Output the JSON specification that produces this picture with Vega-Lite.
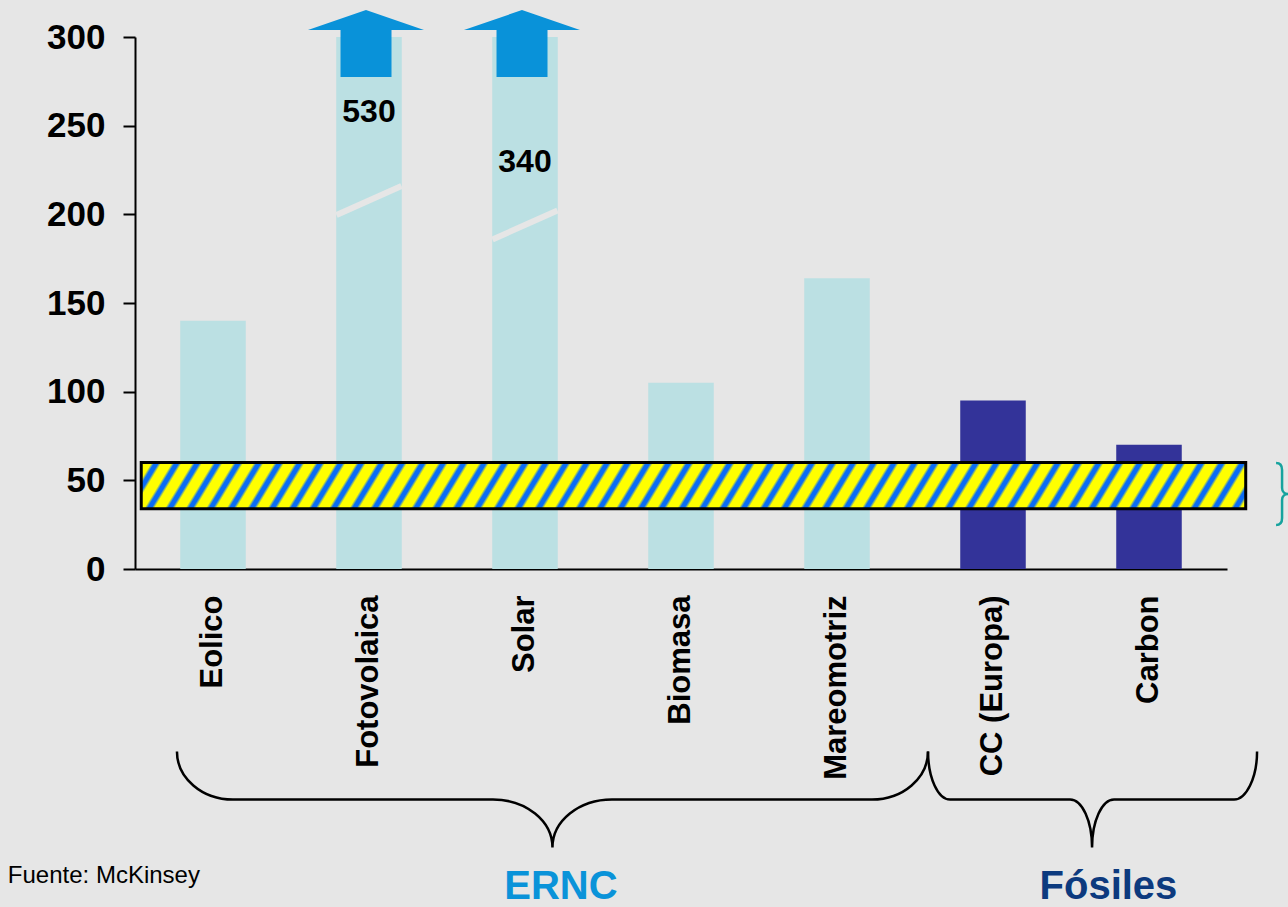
{
  "$schema": "https://vega.github.io/schema/vega-lite/v6.json",
  "width": 1092,
  "height": 532,
  "autosize": {"type": "none"},
  "padding": {"left": 135, "top": 37, "right": 61, "bottom": 338},
  "background": "#e6e6e6",
  "config": {"view": {"stroke": null}, "font": "Liberation Sans"},
  "datasets": {
    "costs": [
      {"cat": "Eolico", "value": 140, "group": "ERNC"},
      {"cat": "Fotovolaica", "value": 530, "group": "ERNC", "break_at": 207.8, "label_y": 252.2},
      {"cat": "Solar", "value": 340, "group": "ERNC", "break_at": 194, "label_y": 224},
      {"cat": "Biomasa", "value": 105, "group": "ERNC"},
      {"cat": "Mareomotriz", "value": 164, "group": "ERNC"},
      {"cat": "CC (Europa)", "value": 95, "group": "Fósiles"},
      {"cat": "Carbon", "value": 70, "group": "Fósiles"}
    ],
    "band": [{"from": 0.04, "to": 7.12, "low": 34, "high": 60}],
    "braces": [
      {"group": "ERNC", "pos": 2.676, "y": -130},
      {"group": "Fósiles", "pos": 6.135, "y": -130}
    ],
    "groups": [
      {"group": "ERNC", "pos": 2.73, "y": -186},
      {"group": "Fósiles", "pos": 6.24, "y": -186}
    ],
    "source": [{"text": "Fuente: McKinsey", "pos": -0.815, "y": -177}],
    "sidebrace": [{"pos": 7.353, "y": 42.3}]
  },
  "layer": [
    {
      "data": {"name": "costs"},
      "mark": {"type": "bar", "clip": true, "opacity": 1},
      "encoding": {
        "x": {
          "field": "cat", "type": "nominal", "sort": null,
          "scale": {"domain": ["Eolico", "Fotovolaica", "Solar", "Biomasa", "Mareomotriz", "CC (Europa)", "Carbon"], "paddingInner": 0.58, "paddingOuter": 0.29},
          "axis": {"title": null, "orient": "bottom", "ticks": false, "tickSize": 0, "labelAngle": -90, "labelFont": "Liberation Sans", "labelFontWeight": "bold", "labelFontSize": 31, "labelColor": "#000000", "labelPadding": 26, "labelLimit": 400, "domainColor": "#000000", "domainWidth": 2}
        },
        "y": {
          "field": "value", "type": "quantitative", "stack": null,
          "scale": {"domain": [0, 300], "nice": false},
          "axis": {"title": null, "orient": "left", "values": [0, 50, 100, 150, 200, 250, 300], "grid": false, "domainColor": "#000000", "domainWidth": 2, "tickColor": "#000000", "tickWidth": 2, "tickSize": 12, "labelFont": "Liberation Sans", "labelFontWeight": "bold", "labelFontSize": 35, "labelColor": "#000000", "labelPadding": 18}
        },
        "color": {"field": "group", "type": "nominal", "scale": {"domain": ["ERNC", "Fósiles"], "range": ["#bbe0e3", "#333399"]}, "legend": null}
      }
    },
    {
      "data": {"name": "costs"},
      "transform": [{"filter": "datum.value > 300"}],
      "mark": {"type": "point", "shape": "M-1,0.446L1,-0.446", "size": 4225, "filled": false, "stroke": "#e6e6e6", "strokeWidth": 6, "opacity": 1},
      "encoding": {
        "x": {"field": "cat", "type": "nominal", "sort": null, "scale": {"domain": ["Eolico", "Fotovolaica", "Solar", "Biomasa", "Mareomotriz", "CC (Europa)", "Carbon"], "paddingInner": 0.58, "paddingOuter": 0.29}, "axis": null},
        "y": {"field": "break_at", "type": "quantitative", "axis": null}
      }
    },
    {
      "data": {"name": "costs"},
      "transform": [{"filter": "datum.value > 300"}],
      "mark": {"type": "point", "shape": "M-0.052,-0.578L0.948,-0.233L0.388,-0.233L0.388,0.578L-0.491,0.578L-0.491,-0.233L-1.052,-0.233Z", "size": 13456, "filled": true, "color": "#0992d9", "strokeWidth": 0, "opacity": 1},
      "encoding": {
        "x": {"field": "cat", "type": "nominal", "sort": null, "scale": {"domain": ["Eolico", "Fotovolaica", "Solar", "Biomasa", "Mareomotriz", "CC (Europa)", "Carbon"], "paddingInner": 0.58, "paddingOuter": 0.29}, "axis": null},
        "y": {"datum": 296.3, "type": "quantitative", "axis": null}
      }
    },
    {
      "data": {"name": "costs"},
      "transform": [{"filter": "datum.value > 300"}],
      "mark": {"type": "text", "font": "Liberation Sans", "fontWeight": "bold", "fontSize": 32, "color": "#000000", "baseline": "alphabetic", "align": "center"},
      "encoding": {
        "x": {"field": "cat", "type": "nominal", "sort": null, "scale": {"domain": ["Eolico", "Fotovolaica", "Solar", "Biomasa", "Mareomotriz", "CC (Europa)", "Carbon"], "paddingInner": 0.58, "paddingOuter": 0.29}, "axis": null},
        "y": {"field": "label_y", "type": "quantitative", "axis": null},
        "text": {"field": "value"}
      }
    },
    {
      "data": {"name": "band"},
      "mark": {
        "type": "rect", "stroke": "#000000", "strokeWidth": 3, "opacity": 1,
        "fill": {
          "gradient": "linear", "x1": 0, "y1": 0, "x2": 1.03, "y2": 0.0261,
          "stops": [
            {"offset": 0, "color": "#ffff00"}, {"offset": 0.009, "color": "#ffff00"}, {"offset": 0.0117, "color": "#0a6cf5"}, {"offset": 0.0153, "color": "#0a6cf5"},
            {"offset": 0.018, "color": "#ffff00"}, {"offset": 0.027, "color": "#ffff00"}, {"offset": 0.0297, "color": "#0a6cf5"}, {"offset": 0.0333, "color": "#0a6cf5"},
            {"offset": 0.036, "color": "#ffff00"}, {"offset": 0.045, "color": "#ffff00"}, {"offset": 0.0477, "color": "#0a6cf5"}, {"offset": 0.0513, "color": "#0a6cf5"},
            {"offset": 0.054, "color": "#ffff00"}, {"offset": 0.063, "color": "#ffff00"}, {"offset": 0.0657, "color": "#0a6cf5"}, {"offset": 0.0693, "color": "#0a6cf5"},
            {"offset": 0.072, "color": "#ffff00"}, {"offset": 0.081, "color": "#ffff00"}, {"offset": 0.0837, "color": "#0a6cf5"}, {"offset": 0.0873, "color": "#0a6cf5"},
            {"offset": 0.09, "color": "#ffff00"}, {"offset": 0.099, "color": "#ffff00"}, {"offset": 0.1017, "color": "#0a6cf5"}, {"offset": 0.1053, "color": "#0a6cf5"},
            {"offset": 0.108, "color": "#ffff00"}, {"offset": 0.117, "color": "#ffff00"}, {"offset": 0.1197, "color": "#0a6cf5"}, {"offset": 0.1233, "color": "#0a6cf5"},
            {"offset": 0.126, "color": "#ffff00"}, {"offset": 0.135, "color": "#ffff00"}, {"offset": 0.1377, "color": "#0a6cf5"}, {"offset": 0.1413, "color": "#0a6cf5"},
            {"offset": 0.144, "color": "#ffff00"}, {"offset": 0.153, "color": "#ffff00"}, {"offset": 0.1557, "color": "#0a6cf5"}, {"offset": 0.1593, "color": "#0a6cf5"},
            {"offset": 0.162, "color": "#ffff00"}, {"offset": 0.171, "color": "#ffff00"}, {"offset": 0.1737, "color": "#0a6cf5"}, {"offset": 0.1773, "color": "#0a6cf5"},
            {"offset": 0.18, "color": "#ffff00"}, {"offset": 0.189, "color": "#ffff00"}, {"offset": 0.1917, "color": "#0a6cf5"}, {"offset": 0.1953, "color": "#0a6cf5"},
            {"offset": 0.198, "color": "#ffff00"}, {"offset": 0.207, "color": "#ffff00"}, {"offset": 0.2097, "color": "#0a6cf5"}, {"offset": 0.2133, "color": "#0a6cf5"},
            {"offset": 0.216, "color": "#ffff00"}, {"offset": 0.225, "color": "#ffff00"}, {"offset": 0.2277, "color": "#0a6cf5"}, {"offset": 0.2313, "color": "#0a6cf5"},
            {"offset": 0.234, "color": "#ffff00"}, {"offset": 0.243, "color": "#ffff00"}, {"offset": 0.2457, "color": "#0a6cf5"}, {"offset": 0.2493, "color": "#0a6cf5"},
            {"offset": 0.252, "color": "#ffff00"}, {"offset": 0.261, "color": "#ffff00"}, {"offset": 0.2637, "color": "#0a6cf5"}, {"offset": 0.2673, "color": "#0a6cf5"},
            {"offset": 0.27, "color": "#ffff00"}, {"offset": 0.279, "color": "#ffff00"}, {"offset": 0.2817, "color": "#0a6cf5"}, {"offset": 0.2853, "color": "#0a6cf5"},
            {"offset": 0.288, "color": "#ffff00"}, {"offset": 0.297, "color": "#ffff00"}, {"offset": 0.2997, "color": "#0a6cf5"}, {"offset": 0.3033, "color": "#0a6cf5"},
            {"offset": 0.306, "color": "#ffff00"}, {"offset": 0.315, "color": "#ffff00"}, {"offset": 0.3177, "color": "#0a6cf5"}, {"offset": 0.3213, "color": "#0a6cf5"},
            {"offset": 0.324, "color": "#ffff00"}, {"offset": 0.333, "color": "#ffff00"}, {"offset": 0.3357, "color": "#0a6cf5"}, {"offset": 0.3393, "color": "#0a6cf5"},
            {"offset": 0.342, "color": "#ffff00"}, {"offset": 0.351, "color": "#ffff00"}, {"offset": 0.3537, "color": "#0a6cf5"}, {"offset": 0.3573, "color": "#0a6cf5"},
            {"offset": 0.36, "color": "#ffff00"}, {"offset": 0.369, "color": "#ffff00"}, {"offset": 0.3717, "color": "#0a6cf5"}, {"offset": 0.3753, "color": "#0a6cf5"},
            {"offset": 0.378, "color": "#ffff00"}, {"offset": 0.387, "color": "#ffff00"}, {"offset": 0.3897, "color": "#0a6cf5"}, {"offset": 0.3933, "color": "#0a6cf5"},
            {"offset": 0.396, "color": "#ffff00"}, {"offset": 0.405, "color": "#ffff00"}, {"offset": 0.4077, "color": "#0a6cf5"}, {"offset": 0.4113, "color": "#0a6cf5"},
            {"offset": 0.414, "color": "#ffff00"}, {"offset": 0.423, "color": "#ffff00"}, {"offset": 0.4257, "color": "#0a6cf5"}, {"offset": 0.4293, "color": "#0a6cf5"},
            {"offset": 0.432, "color": "#ffff00"}, {"offset": 0.441, "color": "#ffff00"}, {"offset": 0.4437, "color": "#0a6cf5"}, {"offset": 0.4473, "color": "#0a6cf5"},
            {"offset": 0.45, "color": "#ffff00"}, {"offset": 0.459, "color": "#ffff00"}, {"offset": 0.4617, "color": "#0a6cf5"}, {"offset": 0.4653, "color": "#0a6cf5"},
            {"offset": 0.468, "color": "#ffff00"}, {"offset": 0.477, "color": "#ffff00"}, {"offset": 0.4797, "color": "#0a6cf5"}, {"offset": 0.4833, "color": "#0a6cf5"},
            {"offset": 0.486, "color": "#ffff00"}, {"offset": 0.495, "color": "#ffff00"}, {"offset": 0.4977, "color": "#0a6cf5"}, {"offset": 0.5013, "color": "#0a6cf5"},
            {"offset": 0.504, "color": "#ffff00"}, {"offset": 0.513, "color": "#ffff00"}, {"offset": 0.5157, "color": "#0a6cf5"}, {"offset": 0.5193, "color": "#0a6cf5"},
            {"offset": 0.522, "color": "#ffff00"}, {"offset": 0.531, "color": "#ffff00"}, {"offset": 0.5337, "color": "#0a6cf5"}, {"offset": 0.5373, "color": "#0a6cf5"},
            {"offset": 0.54, "color": "#ffff00"}, {"offset": 0.549, "color": "#ffff00"}, {"offset": 0.5517, "color": "#0a6cf5"}, {"offset": 0.5553, "color": "#0a6cf5"},
            {"offset": 0.558, "color": "#ffff00"}, {"offset": 0.567, "color": "#ffff00"}, {"offset": 0.5697, "color": "#0a6cf5"}, {"offset": 0.5733, "color": "#0a6cf5"},
            {"offset": 0.576, "color": "#ffff00"}, {"offset": 0.585, "color": "#ffff00"}, {"offset": 0.5877, "color": "#0a6cf5"}, {"offset": 0.5913, "color": "#0a6cf5"},
            {"offset": 0.594, "color": "#ffff00"}, {"offset": 0.603, "color": "#ffff00"}, {"offset": 0.6057, "color": "#0a6cf5"}, {"offset": 0.6093, "color": "#0a6cf5"},
            {"offset": 0.612, "color": "#ffff00"}, {"offset": 0.621, "color": "#ffff00"}, {"offset": 0.6237, "color": "#0a6cf5"}, {"offset": 0.6273, "color": "#0a6cf5"},
            {"offset": 0.63, "color": "#ffff00"}, {"offset": 0.639, "color": "#ffff00"}, {"offset": 0.6417, "color": "#0a6cf5"}, {"offset": 0.6453, "color": "#0a6cf5"},
            {"offset": 0.648, "color": "#ffff00"}, {"offset": 0.657, "color": "#ffff00"}, {"offset": 0.6597, "color": "#0a6cf5"}, {"offset": 0.6633, "color": "#0a6cf5"},
            {"offset": 0.666, "color": "#ffff00"}, {"offset": 0.675, "color": "#ffff00"}, {"offset": 0.6777, "color": "#0a6cf5"}, {"offset": 0.6813, "color": "#0a6cf5"},
            {"offset": 0.684, "color": "#ffff00"}, {"offset": 0.693, "color": "#ffff00"}, {"offset": 0.6957, "color": "#0a6cf5"}, {"offset": 0.6993, "color": "#0a6cf5"},
            {"offset": 0.702, "color": "#ffff00"}, {"offset": 0.711, "color": "#ffff00"}, {"offset": 0.7137, "color": "#0a6cf5"}, {"offset": 0.7173, "color": "#0a6cf5"},
            {"offset": 0.72, "color": "#ffff00"}, {"offset": 0.729, "color": "#ffff00"}, {"offset": 0.7317, "color": "#0a6cf5"}, {"offset": 0.7353, "color": "#0a6cf5"},
            {"offset": 0.738, "color": "#ffff00"}, {"offset": 0.747, "color": "#ffff00"}, {"offset": 0.7497, "color": "#0a6cf5"}, {"offset": 0.7533, "color": "#0a6cf5"},
            {"offset": 0.756, "color": "#ffff00"}, {"offset": 0.765, "color": "#ffff00"}, {"offset": 0.7677, "color": "#0a6cf5"}, {"offset": 0.7713, "color": "#0a6cf5"},
            {"offset": 0.774, "color": "#ffff00"}, {"offset": 0.783, "color": "#ffff00"}, {"offset": 0.7857, "color": "#0a6cf5"}, {"offset": 0.7893, "color": "#0a6cf5"},
            {"offset": 0.792, "color": "#ffff00"}, {"offset": 0.801, "color": "#ffff00"}, {"offset": 0.8037, "color": "#0a6cf5"}, {"offset": 0.8073, "color": "#0a6cf5"},
            {"offset": 0.81, "color": "#ffff00"}, {"offset": 0.819, "color": "#ffff00"}, {"offset": 0.8217, "color": "#0a6cf5"}, {"offset": 0.8253, "color": "#0a6cf5"},
            {"offset": 0.828, "color": "#ffff00"}, {"offset": 0.837, "color": "#ffff00"}, {"offset": 0.8397, "color": "#0a6cf5"}, {"offset": 0.8433, "color": "#0a6cf5"},
            {"offset": 0.846, "color": "#ffff00"}, {"offset": 0.855, "color": "#ffff00"}, {"offset": 0.8577, "color": "#0a6cf5"}, {"offset": 0.8613, "color": "#0a6cf5"},
            {"offset": 0.864, "color": "#ffff00"}, {"offset": 0.873, "color": "#ffff00"}, {"offset": 0.8757, "color": "#0a6cf5"}, {"offset": 0.8793, "color": "#0a6cf5"},
            {"offset": 0.882, "color": "#ffff00"}, {"offset": 0.891, "color": "#ffff00"}, {"offset": 0.8937, "color": "#0a6cf5"}, {"offset": 0.8973, "color": "#0a6cf5"},
            {"offset": 0.9, "color": "#ffff00"}, {"offset": 0.909, "color": "#ffff00"}, {"offset": 0.9117, "color": "#0a6cf5"}, {"offset": 0.9153, "color": "#0a6cf5"},
            {"offset": 0.918, "color": "#ffff00"}, {"offset": 0.927, "color": "#ffff00"}, {"offset": 0.9297, "color": "#0a6cf5"}, {"offset": 0.9333, "color": "#0a6cf5"},
            {"offset": 0.936, "color": "#ffff00"}, {"offset": 0.945, "color": "#ffff00"}, {"offset": 0.9477, "color": "#0a6cf5"}, {"offset": 0.9513, "color": "#0a6cf5"},
            {"offset": 0.954, "color": "#ffff00"}, {"offset": 0.963, "color": "#ffff00"}, {"offset": 0.9657, "color": "#0a6cf5"}, {"offset": 0.9693, "color": "#0a6cf5"},
            {"offset": 0.972, "color": "#ffff00"}, {"offset": 0.981, "color": "#ffff00"}, {"offset": 0.9837, "color": "#0a6cf5"}, {"offset": 0.9873, "color": "#0a6cf5"},
            {"offset": 0.99, "color": "#ffff00"}, {"offset": 1, "color": "#ffff00"}
          ]
        }
      },
      "encoding": {
        "x": {"field": "from", "type": "quantitative", "scale": {"domain": [0, 7], "nice": false, "zero": false}, "axis": null},
        "x2": {"field": "to"},
        "y": {"field": "low", "type": "quantitative", "axis": null},
        "y2": {"field": "high"}
      }
    },
    {
      "data": {"name": "braces"},
      "mark": {"type": "point", "size": 40000, "filled": false, "stroke": "#000000", "strokeWidth": 2.5, "opacity": 1},
      "encoding": {
        "x": {"field": "pos", "type": "quantitative", "scale": {"domain": [0, 7], "nice": false, "zero": false}, "axis": null},
        "y": {"field": "y", "type": "quantitative", "axis": null},
        "shape": {
          "field": "group", "type": "nominal", "legend": null,
          "scale": {
            "domain": ["ERNC", "Fósiles"],
            "range": [
              "M-3.755,-0.48C-3.755,-0.215,-3.505,0,-3.195,0L-0.595,0C-0.265,0,0,0.215,0,0.48C0,0.215,0.265,0,0.595,0L3.195,0C3.505,0,3.755,-0.215,3.755,-0.48",
              "M-1.64,-0.48C-1.64,-0.215,-1.54,0,-1.42,0L-0.22,0C-0.1,0,0,0.215,0,0.48C0,0.215,0.1,0,0.22,0L1.42,0C1.54,0,1.65,-0.215,1.65,-0.48"
            ]
          }
        }
      }
    },
    {
      "data": {"name": "groups"},
      "mark": {"type": "text", "font": "Liberation Sans", "fontWeight": "bold", "fontSize": 40, "baseline": "alphabetic", "align": "center"},
      "encoding": {
        "x": {"field": "pos", "type": "quantitative", "scale": {"domain": [0, 7], "nice": false, "zero": false}, "axis": null},
        "y": {"field": "y", "type": "quantitative", "axis": null},
        "text": {"field": "group"},
        "fill": {"field": "group", "type": "nominal", "scale": {"domain": ["ERNC", "Fósiles"], "range": ["#0a93d9", "#0d3a7e"]}, "legend": null}
      }
    },
    {
      "data": {"name": "source"},
      "mark": {"type": "text", "font": "Liberation Sans", "fontSize": 24, "color": "#000000", "baseline": "alphabetic", "align": "left"},
      "encoding": {
        "x": {"field": "pos", "type": "quantitative", "scale": {"domain": [0, 7], "nice": false, "zero": false}, "axis": null},
        "y": {"field": "y", "type": "quantitative", "axis": null},
        "text": {"field": "text"}
      }
    },
    {
      "data": {"name": "sidebrace"},
      "mark": {"type": "point", "shape": "M-0.6,-3.1C-0.1,-3.1,0,-2.8,0,-2.4L0,-0.6C0,-0.2,0.3,0,0.6,0C0.3,0,0,0.2,0,0.6L0,2.4C0,2.8,-0.1,3.1,-0.6,3.1", "size": 400, "filled": false, "stroke": "#17a39e", "strokeWidth": 2.5, "opacity": 1},
      "encoding": {
        "x": {"field": "pos", "type": "quantitative", "scale": {"domain": [0, 7], "nice": false, "zero": false}, "axis": null},
        "y": {"field": "y", "type": "quantitative", "axis": null}
      }
    }
  ],
  "resolve": {"scale": {"x": "independent"}, "axis": {"x": "independent", "y": "independent"}}
}
